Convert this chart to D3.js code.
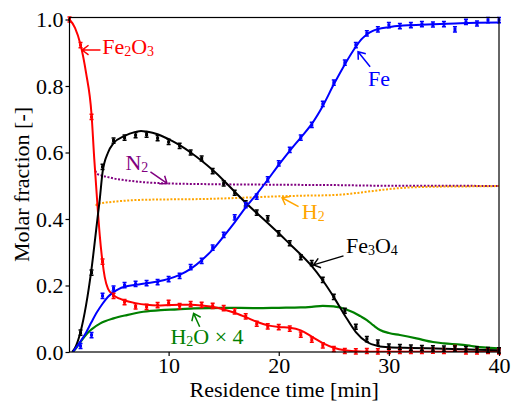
<!DOCTYPE html>
<html>
<head>
<meta charset="utf-8">
<script src="https://cdn.jsdelivr.net/npm/d3@7"></script>
</head>
<body style="margin:0; background:#fff">
<div id="chart"></div>
<script>
// fitted curves (time [min], molar fraction)
var fe2o3FitT = [1, 1.5, 2, 2.5, 3, 3.25, 3.5, 3.75, 4, 4.2, 4.5, 5, 5.5, 6, 7, 8, 9, 10, 11, 12, 13, 14, 15, 16, 17, 18, 19, 20, 21, 22, 23, 24, 25, 26, 27, 28, 30, 35, 40];
var fe2o3FitV = [1.0, 0.975, 0.925, 0.84, 0.715, 0.58, 0.46, 0.35, 0.27, 0.225, 0.19, 0.171, 0.161, 0.155, 0.147, 0.142, 0.14, 0.141, 0.142, 0.142, 0.14, 0.136, 0.128, 0.118, 0.105, 0.091, 0.08, 0.075, 0.073, 0.065, 0.046, 0.027, 0.013, 0.005, 0.002, 0.001, 0.001, 0.001, 0.001];

var fe3o4FitT = [1.25, 1.5, 2, 2.5, 3, 3.5, 3.75, 4, 4.5, 5, 6, 7, 7.5, 8, 9, 10, 11, 12, 13, 14, 15, 16, 17, 18, 19, 20, 21, 22, 23, 24, 25, 26, 27, 28, 29, 30, 32, 35, 38, 40];
var fe3o4FitV = [0, 0.012, 0.06, 0.14, 0.25, 0.39, 0.46, 0.54, 0.6, 0.628, 0.65, 0.662, 0.665, 0.663, 0.655, 0.64, 0.622, 0.6, 0.575, 0.547, 0.516, 0.482, 0.449, 0.418, 0.388, 0.357, 0.325, 0.293, 0.258, 0.215, 0.165, 0.11, 0.06, 0.03, 0.018, 0.014, 0.012, 0.01, 0.007, 0.005];

var feFitT = [1.3, 2, 2.5, 3, 3.5, 4, 4.5, 5, 5.5, 6, 7, 8, 9, 10, 11, 12, 13, 14, 15, 16, 17, 18, 19, 20, 21, 22, 23, 24, 25, 26, 27, 27.5, 28, 28.5, 29, 30, 31, 32, 34, 36, 38, 40];
var feFitV = [0, 0.032, 0.058, 0.09, 0.12, 0.145, 0.166, 0.18, 0.19, 0.196, 0.202, 0.207, 0.212, 0.22, 0.232, 0.25, 0.276, 0.308, 0.348, 0.39, 0.435, 0.475, 0.518, 0.563, 0.605, 0.645, 0.686, 0.74, 0.805, 0.865, 0.918, 0.94, 0.955, 0.965, 0.971, 0.977, 0.981, 0.983, 0.986, 0.988, 0.99, 0.991];

// measured gas fractions
var h2oT = [1.3, 1.6, 2, 2.6, 3, 3.8, 5, 6.2, 7.7, 9.3, 10.8, 12.3, 15, 18, 20, 22, 23, 24, 25, 25.6, 26.2, 26.8, 27.4, 28, 28.6, 29.2, 30, 31, 32.5, 34, 35, 36.5, 37.5, 38.6, 40];
var h2oV = [0, 0.012, 0.03, 0.056, 0.068, 0.086, 0.101, 0.111, 0.121, 0.126, 0.128, 0.131, 0.133, 0.132, 0.133, 0.134, 0.136, 0.139, 0.137, 0.134, 0.127, 0.119, 0.108, 0.096, 0.08, 0.066, 0.057, 0.051, 0.041, 0.03, 0.026, 0.022, 0.018, 0.014, 0.011];

var n2T = [3.35, 3.5, 4, 4.5, 5, 6, 7, 8, 10, 13, 16, 20, 25, 30, 35, 40];
var n2V = [0.545, 0.536, 0.53, 0.526, 0.522, 0.517, 0.513, 0.51, 0.507, 0.505, 0.504, 0.503, 0.502, 0.5, 0.5, 0.499];

var h2T = [3.4, 3.5, 4, 5, 6, 7, 10, 13, 16, 19, 22, 25, 26.5, 28, 29.5, 31, 34, 37, 40];
var h2V = [0.44, 0.445, 0.448, 0.452, 0.455, 0.457, 0.459, 0.46, 0.463, 0.467, 0.47, 0.472, 0.476, 0.482, 0.488, 0.493, 0.497, 0.498, 0.499];

// measured solid fractions (error bar points)
var fe2o3PtsT = d3.range(1, 41);
var fe2o3PtsV = [1.0, 0.923, 0.707, 0.272, 0.169, 0.15, 0.137, 0.136, 0.141, 0.148, 0.138, 0.144, 0.142, 0.139, 0.132, 0.122, 0.107, 0.085, 0.077, 0.075, 0.07, 0.052, 0.037, 0.02, 0.009, 0.003, 0.002, 0.003, 0.002, 0.003, 0.003, 0.003, 0.003, 0.004, 0.003, 0.012, 0.002, 0.002, 0.003, 0.002];

var fe3o4PtsT = d3.range(2, 41);
var fe3o4PtsV = [0.058, 0.239, 0.557, 0.636, 0.645, 0.652, 0.654, 0.643, 0.632, 0.62, 0.6, 0.582, 0.544, 0.507, 0.479, 0.447, 0.419, 0.402, 0.357, 0.327, 0.285, 0.267, 0.217, 0.166, 0.124, 0.076, 0.039, 0.028, 0.016, 0.015, 0.013, 0.012, 0.011, 0.01, 0.01, 0.009, 0.008, 0.006, 0.005];

var fePtsT = d3.range(2, 41);
var fePtsV = [0.018, 0.051, 0.169, 0.191, 0.201, 0.205, 0.207, 0.21, 0.219, 0.229, 0.255, 0.274, 0.314, 0.352, 0.405, 0.442, 0.467, 0.519, 0.567, 0.608, 0.645, 0.683, 0.746, 0.81, 0.87, 0.923, 0.958, 0.97, 0.983, 0.98, 0.983, 0.986, 0.985, 0.986, 0.97, 0.993, 0.988, 0.998, 0.998];

var xTicks = [10, 20, 30, 40];
var yTicks = [0, 0.2, 0.4, 0.6, 0.8, 1.0];

// annotations: [label parts, tip t, tip v, tail t, tail v, text t, text v, colour]
var annLabels = [
  [["Fe", "2", "O", "3"], 2.15, 0.908, 3.81, 0.908, 3.97, 0.896, "red"],
  [["Fe"], 27.2, 0.903, 28.3, 0.858, 28.1, 0.8, "blue"],
  [["N", "2"], 9.86, 0.507, 8.35, 0.542, 6.08, 0.547, "purple"],
  [["H", "2"], 20.3, 0.464, 21.8, 0.437, 22.1, 0.399, "orange"],
  [["Fe", "3", "O", "4"], 23.16, 0.262, 25.88, 0.289, 26.1, 0.299, "black"],
  [["H", "2", "O \u00d7 4"], 12.27, 0.116, 12.82, 0.076, 10.16, 0.024, "green"]
];

var serif = "'Liberation Serif'";
var svgWidth = 512;
var svgHeight = 401;

var svg = d3.select("#chart")
    .append("svg")
    .attr("width", svgWidth)
    .attr("height", svgHeight)
    .style("font-family", serif);

var x = d3.scaleLinear().domain([1, 40]).range([69.5, 499]);
var y = d3.scaleLinear().domain([0, 1.006]).range([352, 17.5]);

svg.append("clipPath").attr("id", "clip")
    .append("rect")
    .attr("x", 69.5).attr("y", 17.5)
    .attr("width", 499 - 69.5).attr("height", 352 - 17.5);

var zip = (ts, vs) => ts.map((t, i) => [t, vs[i]]);

var line = d3.line()
    .x(d => x(d[0]))
    .y(d => y(d[1]))
    .curve(d3.curveMonotoneX);

var plot = svg.append("g").attr("clip-path", "url(#clip)");

// gas lines
plot.append("path").datum(zip(h2oT, h2oV))
    .attr("d", line).attr("fill", "none")
    .attr("stroke", "green").attr("stroke-width", 2.2);

plot.append("path").datum(zip(n2T, n2V))
    .attr("d", line).attr("fill", "none")
    .attr("stroke", "purple").attr("stroke-width", 2)
    .attr("stroke-dasharray", "2,1.6");

plot.append("path").datum(zip(h2T, h2V))
    .attr("d", line).attr("fill", "none")
    .attr("stroke", "orange").attr("stroke-width", 2)
    .attr("stroke-dasharray", "2,1.6");

// solid fits
var fits = [
  [fe2o3FitT, fe2o3FitV, "red"],
  [fe3o4FitT, fe3o4FitV, "black"],
  [feFitT, feFitV, "blue"]
];
fits.forEach(function(f) {
  plot.append("path").datum(zip(f[0], f[1]))
      .attr("d", line).attr("fill", "none")
      .attr("stroke", f[2]).attr("stroke-width", 2);
});

// error bar points
function errPoints(ts, vs, color) {
  var g = svg.append("g");
  var pts = zip(ts, vs);
  g.selectAll("path.eb")
      .data(pts)
      .enter()
      .append("path")
      .attr("d", d => {
        var px = x(d[0]), py = y(d[1]);
        return `M${px},${py - 2.6}V${py + 2.6}M${px - 2},${py - 2.6}H${px + 2}M${px - 2},${py + 2.6}H${px + 2}`;
      })
      .attr("stroke", color)
      .attr("stroke-width", 1.5)
      .attr("fill", "none");
  g.selectAll("rect")
      .data(pts)
      .enter()
      .append("rect")
      .attr("x", d => x(d[0]) - 1.5)
      .attr("y", d => y(d[1]) - 1.5)
      .attr("width", 3)
      .attr("height", 3)
      .attr("fill", color);
}
errPoints(fe2o3PtsT, fe2o3PtsV, "red");
errPoints(fe3o4PtsT, fe3o4PtsV, "black");
errPoints(fePtsT, fePtsV, "blue");

// axes
var bottomAxis = d3.axisBottom(x).tickValues(xTicks).tickSize(4).tickPadding(1);
var leftAxis = d3.axisLeft(y).tickValues(yTicks).tickFormat(d3.format(".1f")).tickSize(4).tickPadding(2);

var xAxis = svg.append("g")
    .attr("transform", "translate(0,352)")
    .call(bottomAxis);
var yAxis = svg.append("g")
    .attr("transform", "translate(69.5,0)")
    .call(leftAxis);

[xAxis, yAxis].forEach(function(a) {
  a.attr("font-family", null);
  a.select(".domain").remove();
  a.selectAll("line").attr("stroke", "black").attr("stroke-width", 1.2);
  a.selectAll("text")
      .style("font-family", serif)
      .attr("font-size", 22)
      .attr("fill", "black");
});

// frame
svg.append("rect")
    .attr("x", 69.5).attr("y", 17.5)
    .attr("width", 499 - 69.5).attr("height", 352 - 17.5)
    .attr("fill", "none").attr("stroke", "black").attr("stroke-width", 1.2);

// axis labels
svg.append("text")
    .attr("transform", "translate(29,184.5) rotate(-90)")
    .attr("text-anchor", "middle")
    .attr("font-size", 22)
    .style("font-family", serif)
    .text("Molar fraction [-]");

svg.append("text")
    .attr("x", 284.25)
    .attr("y", 397)
    .attr("text-anchor", "middle")
    .attr("font-size", 22)
    .style("font-family", serif)
    .text("Residence time [min]");

// annotations
annLabels.forEach(function(a) {
  var tipX = x(a[1]), tipY = y(a[2]);
  var tailX = x(a[3]), tailY = y(a[4]);
  var color = a[7];
  var ang = Math.atan2(tailY - tipY, tailX - tipX);
  var hl = 8, hw = 0.65;
  var h1x = tipX + hl * Math.cos(ang + hw), h1y = tipY + hl * Math.sin(ang + hw);
  var h2x = tipX + hl * Math.cos(ang - hw), h2y = tipY + hl * Math.sin(ang - hw);
  svg.append("path")
      .attr("d", `M${tailX},${tailY}L${tipX},${tipY}M${h1x},${h1y}L${tipX},${tipY}L${h2x},${h2y}`)
      .attr("stroke", color)
      .attr("stroke-width", 1.5)
      .attr("fill", "none");

  var t = svg.append("text")
      .attr("x", x(a[5]))
      .attr("y", y(a[6]))
      .attr("font-size", 22)
      .style("font-family", serif)
      .attr("fill", color);
  a[0].forEach(function(part, i) {
    var sub = /^[0-9]$/.test(part);
    var prevSub = i > 0 && /^[0-9]$/.test(a[0][i - 1]);
    t.append("tspan")
        .attr("font-size", sub ? 14 : 22)
        .attr("dy", sub ? 2 : (prevSub ? -2 : 0))
        .text(part);
  });
});
</script>
</body>
</html>
